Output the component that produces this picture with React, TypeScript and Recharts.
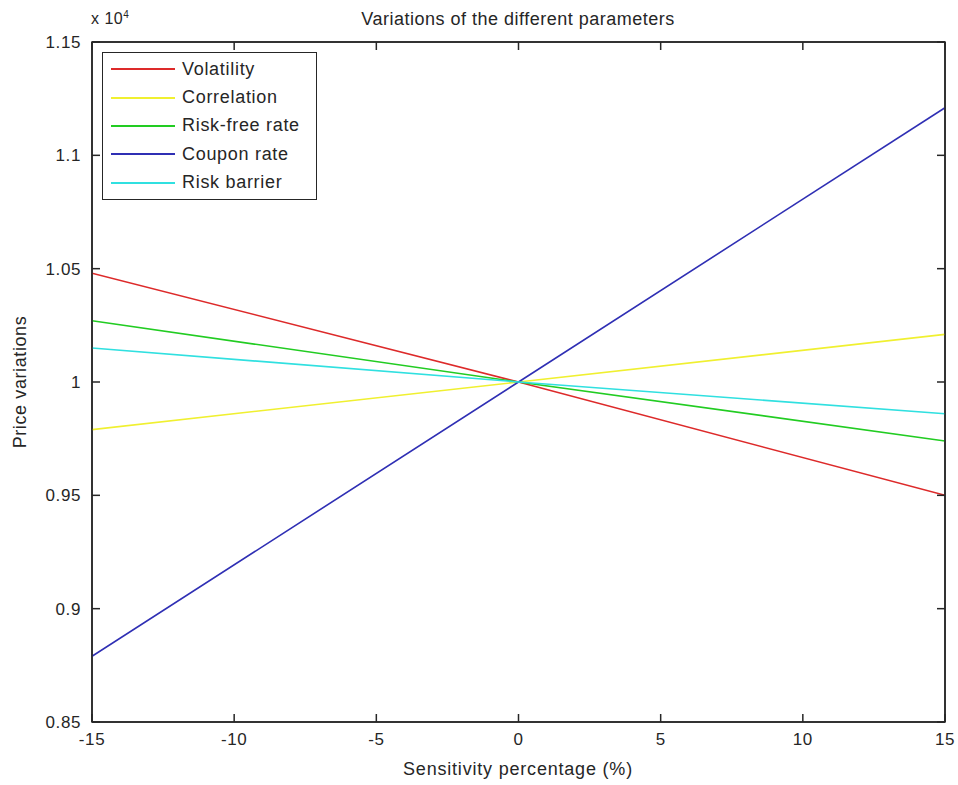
import { LineChart, Line, XAxis, YAxis, ReferenceArea } from 'recharts';

const sensitivity = [-15, 0, 15];
const volatility = [1.048, 1.0, 0.95];
const correlation = [0.979, 1.0, 1.021];
const riskFreeRate = [1.027, 1.0, 0.974];
const couponRate = [0.879, 1.0, 1.121];
const riskBarrier = [1.015, 1.0, 0.986];

const xTicks = [-15, -10, -5, 0, 5, 10, 15];
const yTicks = [0.85, 0.9, 0.95, 1, 1.05, 1.1, 1.15];

const series = [
  { key: 'volatility', name: 'Volatility', color: '#dd2a2a' },
  { key: 'correlation', name: 'Correlation', color: '#f0f030' },
  { key: 'riskFree', name: 'Risk-free rate', color: '#22cc22' },
  { key: 'coupon', name: 'Coupon rate', color: '#2f2fb4' },
  { key: 'barrier', name: 'Risk barrier', color: '#30e0e0' },
];

const data = sensitivity.map((x, i) => ({
  x,
  volatility: volatility[i],
  correlation: correlation[i],
  riskFree: riskFreeRate[i],
  coupon: couponRate[i],
  barrier: riskBarrier[i],
}));

const FONT = 'Arial, "Liberation Sans", Helvetica, sans-serif';
const INK = '#262626';
const TICK = 8;
const MARGIN = 6;

function BottomTick(props: any) {
  const { x, y, payload } = props;
  const axisY = y - MARGIN;
  return (
    <g>
      <line x1={x} x2={x} y1={axisY} y2={axisY - TICK} stroke={INK} strokeWidth={1.5} />
      <text x={x} y={axisY + 23} textAnchor="middle" fontSize={17} letterSpacing={0.6} fontFamily={FONT} fill={INK}>
        {String(payload.value)}
      </text>
    </g>
  );
}

function LeftTick(props: any) {
  const { x, y, payload } = props;
  const axisX = x + MARGIN;
  return (
    <g>
      <line x1={axisX} x2={axisX + TICK} y1={y} y2={y} stroke={INK} strokeWidth={1.5} />
      <text x={axisX - 11} y={y + 6} textAnchor="end" fontSize={17} letterSpacing={0.6} fontFamily={FONT} fill={INK}>
        {String(payload.value)}
      </text>
    </g>
  );
}

function TopTick(props: any) {
  const { x, y } = props;
  return <line x1={x} x2={x} y1={y} y2={y + TICK} stroke={INK} strokeWidth={1.5} />;
}

function RightTick(props: any) {
  const { x, y } = props;
  return <line x1={x} x2={x - TICK} y1={y} y2={y} stroke={INK} strokeWidth={1.5} />;
}

export default function App() {
  return (
    <div style={{ position: 'absolute', left: 0, top: 0, width: 958, height: 785, background: '#fff', fontFamily: FONT }}>
      <LineChart width={958} height={785} data={data} margin={{ top: 41, right: 12, bottom: 33, left: 32 }}>
        <XAxis
          xAxisId="bottom"
          dataKey="x"
          type="number"
          domain={[-15, 15]}
          ticks={xTicks}
          height={30}
          tickSize={0}
          tickMargin={MARGIN}
          tick={<BottomTick />}
          axisLine={{ stroke: INK, strokeWidth: 1.5 }}
          interval={0}
          allowDataOverflow
        />
        <XAxis
          xAxisId="top"
          orientation="top"
          dataKey="x"
          type="number"
          domain={[-15, 15]}
          ticks={xTicks}
          height={1}
          tickSize={0}
          tickMargin={0}
          tick={<TopTick />}
          axisLine={{ stroke: INK, strokeWidth: 1.5 }}
          interval={0}
          allowDataOverflow
        />
        <YAxis
          yAxisId="left"
          type="number"
          domain={[0.85, 1.15]}
          ticks={yTicks}
          width={60}
          tickSize={0}
          tickMargin={MARGIN}
          tick={<LeftTick />}
          axisLine={{ stroke: INK, strokeWidth: 1.5 }}
          interval={0}
          allowDataOverflow
        />
        <YAxis
          yAxisId="right"
          orientation="right"
          type="number"
          domain={[0.85, 1.15]}
          ticks={yTicks}
          width={1}
          tickSize={0}
          tickMargin={0}
          tick={<RightTick />}
          axisLine={{ stroke: INK, strokeWidth: 1.5 }}
          interval={0}
          allowDataOverflow
        />
        <ReferenceArea
          xAxisId="bottom"
          yAxisId="left"
          x1={-15}
          x2={15}
          y1={0.85}
          y2={1.15}
          fill="none"
          stroke={INK}
          strokeWidth={1.5}
          ifOverflow="visible"
        />
        {series.map((s) => (
          <Line
            key={s.key}
            xAxisId="bottom"
            yAxisId="left"
            type="linear"
            dataKey={s.key}
            name={s.name}
            stroke={s.color}
            strokeWidth={1.6}
            dot={false}
            isAnimationActive={false}
          />
        ))}
      </LineChart>

      <div style={{ position: 'absolute', left: 0, width: 1036, top: 9, textAlign: 'center', fontSize: 18, letterSpacing: 0.5, color: INK }}>
        Variations of the different parameters
      </div>
      <div style={{ position: 'absolute', left: 91, top: 9, fontSize: 16, letterSpacing: 0.5, color: INK }}>
        x 10<sup style={{ fontSize: 10 }}>4</sup>
      </div>
      <div style={{ position: 'absolute', left: 0, width: 1036, top: 759, textAlign: 'center', fontSize: 18, letterSpacing: 0.8, color: INK }}>
        Sensitivity percentage (%)
      </div>
      <div
        style={{
          position: 'absolute',
          left: 20,
          top: 382,
          fontSize: 18,
          letterSpacing: 0.6,
          color: INK,
          whiteSpace: 'nowrap',
          transform: 'translate(-50%, -50%) rotate(-90deg)',
        }}
      >
        Price variations
      </div>

      <div
        style={{
          position: 'absolute',
          left: 102,
          top: 52,
          width: 215,
          height: 148,
          border: `1.5px solid ${INK}`,
          background: '#fff',
          boxSizing: 'border-box',
          paddingTop: 2,
        }}
      >
        {series.map((s) => (
          <div key={s.key} style={{ display: 'flex', alignItems: 'center', height: 28.4 }}>
            <div style={{ marginLeft: 8, width: 64, height: 0, borderTop: `2px solid ${s.color}` }} />
            <span style={{ marginLeft: 7, fontSize: 18, letterSpacing: 0.7, color: INK }}>{s.name}</span>
          </div>
        ))}
      </div>
    </div>
  );
}
